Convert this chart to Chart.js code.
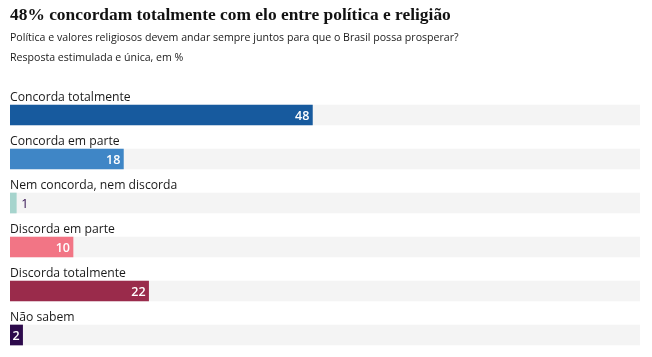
<!DOCTYPE html>
<html><head><meta charset="utf-8">
<script src="https://cdn.jsdelivr.net/npm/chart.js@4/dist/chart.umd.min.js"></script>
<style>
html,body{margin:0;padding:0;background:#fff;width:652px;height:357px;overflow:hidden;}
#wrap{position:relative;width:652px;height:357px;}
canvas{position:absolute;left:0;top:0;}
.t{position:absolute;left:10px;white-space:nowrap;color:#111;}
#title{top:4px;font-family:"Liberation Serif",serif;font-weight:bold;font-size:17.4px;color:#121212;}
#sub1{top:30px;font-family:"Open Sans",sans-serif;font-size:10.6px;color:#1a1a1a;}
#sub2{top:50px;font-family:"Open Sans",sans-serif;font-size:10.6px;color:#1a1a1a;}
</style></head>
<body><div id="wrap">
<canvas id="c" width="652" height="357"></canvas>
<div class="t" id="title">48% concordam totalmente com elo entre política e religião</div>
<div class="t" id="sub1">Política e valores religiosos devem andar sempre juntos para que o Brasil possa prosperar?</div>
<div class="t" id="sub2">Resposta estimulada e única, em %</div>
</div>
<script>
const categories = ["Concorda totalmente","Concorda em parte","Nem concorda, nem discorda","Discorda em parte","Discorda totalmente","Não sabem"];
const values = [48,18,1,10,22,2];
const barColors = ["#175a9e","#3f86c6","#a6d4cd","#f27585","#9a2b4b","#2d0a4c"];
const trackValues = [100,100,100,100,100,100];

const labelPlugin = {
  id:'labels',
  afterDatasetsDraw(chart){
    const ctx = chart.ctx;
    const meta = chart.getDatasetMeta(0);
    ctx.save();
    meta.data.forEach((bar,i)=>{
      const top = bar.y - bar.height/2;
      ctx.font = '12.2px "Open Sans", sans-serif';
      ctx.fillStyle = '#1a1a1a';
      ctx.textAlign = 'left';
      ctx.textBaseline = 'alphabetic';
      ctx.fillText(categories[i], chart.chartArea.left, top - 4);
      const v = values[i];
      ctx.font = '600 12.5px "Open Sans", sans-serif';
      ctx.textBaseline = 'middle';
      const w = ctx.measureText(String(v)).width;
      if (bar.x - bar.base >= w + 4) {
        ctx.fillStyle = '#fff';
        ctx.textAlign = 'right';
        ctx.fillText(String(v), bar.x - 3, bar.y + 1);
      } else {
        ctx.fillStyle = '#2d0a4c';
        ctx.textAlign = 'left';
        ctx.font = '12.5px "Open Sans", sans-serif';
        ctx.fillText(String(v), bar.x + 5, bar.y + 1);
      }
    });
    ctx.restore();
  }
};

new Chart(document.getElementById('c'), {
  type:'bar',
  data:{
    labels: categories,
    datasets:[
      {data: values, backgroundColor: barColors, barThickness:20, grouped:false, order:0},
      {data: trackValues, backgroundColor:'#f4f4f4', barThickness:20, grouped:false, order:1}
    ]
  },
  options:{
    indexAxis:'y',
    responsive:false,
    animation:false,
    layout:{padding:{top:93,left:10,right:12,bottom:0}},
    scales:{
      x:{display:false,min:0,max:100},
      y:{display:false}
    },
    plugins:{legend:{display:false},tooltip:{enabled:false},title:{display:false}}
  },
  plugins:[labelPlugin]
});
</script>
</body></html>
